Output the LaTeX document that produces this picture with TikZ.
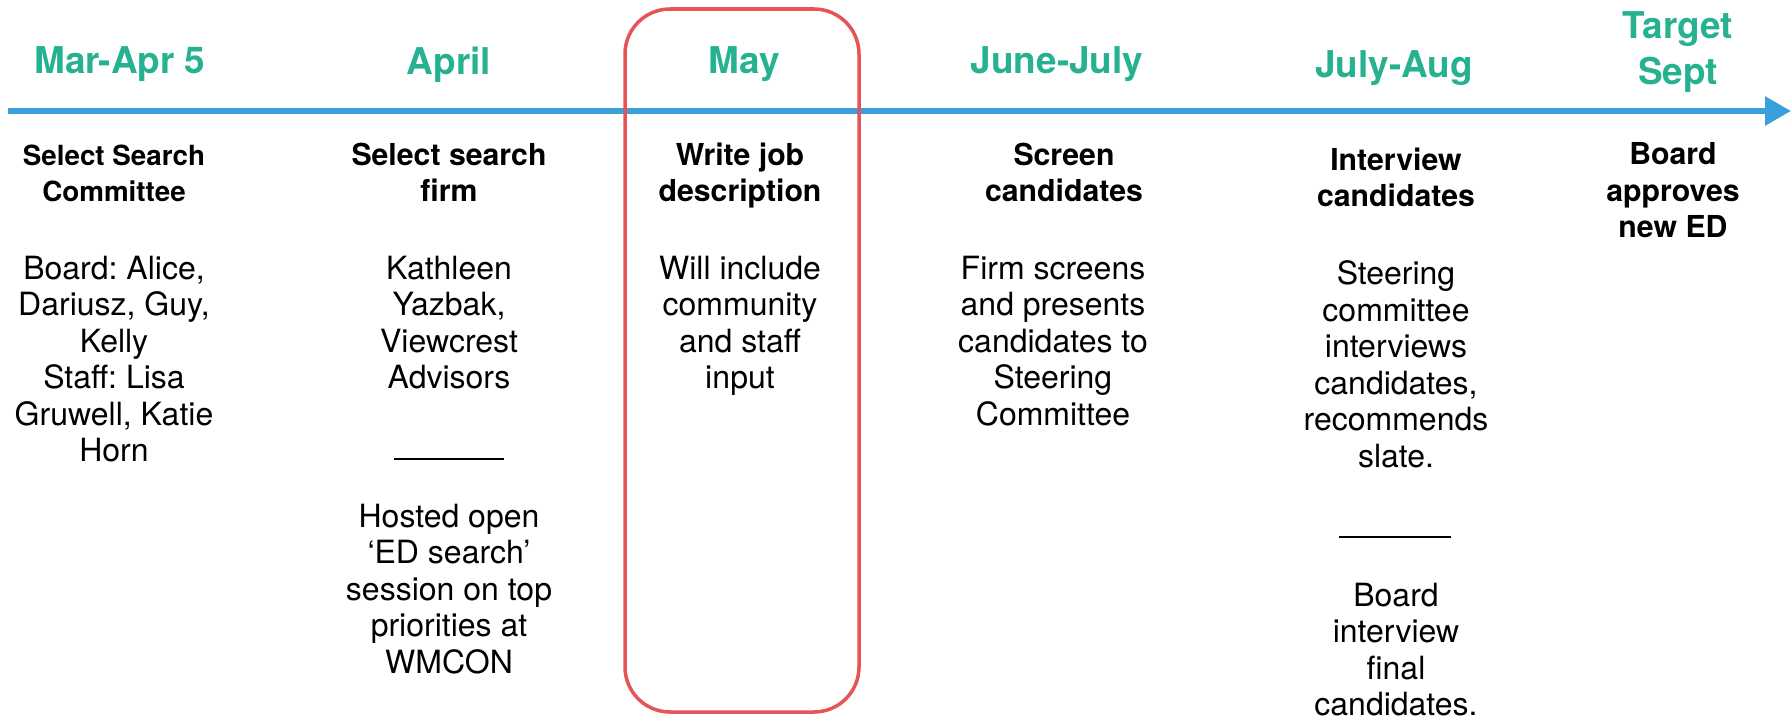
\documentclass[tikz,border=0pt]{standalone}
\usepackage{fontspec}
\setmainfont{TeX Gyre Heros}
\usetikzlibrary{positioning,arrows.meta}
\definecolor{monthteal}{RGB}{38,178,145}
\definecolor{lineblue}{RGB}{57,160,220}
\definecolor{markred}{RGB}{230,84,88}
\frenchspacing

\begin{document}
\begin{tikzpicture}[x=0.01cm,y=-0.01cm,
  hd/.style={font=\fontsize{10.5}{13}\selectfont\bfseries,color=monthteal,align=center,
             anchor=north,inner sep=0pt},
  ttl/.style={font=\fontsize{8.6}{10.4}\selectfont\bfseries,align=center,anchor=north,inner sep=0pt},
  txt/.style={font=\fontsize{9.1}{10.4}\selectfont,align=center,anchor=north,inner sep=0pt},
  arr/.style={-{Triangle[length=0.26cm,width=0.28cm]},line width=1.7pt,color=lineblue},
  rule/.style={line width=0.4pt,color=black}]
  \useasboundingbox (0,0) rectangle (1791,721);
  % month headings
  \node[hd] (mar)  at (120,46)  {Mar-Apr 5};
  \node[hd] (apr)  at (449,46)  {April};
  \node[hd] (may)  at (744,46)  {May};
  \node[hd] (jun)  at (1057,46) {June-July};
  \node[hd] (jul)  at (1394,50) {July-Aug};
  \node[hd] (sep)  at (1678,11) {Target\\Sept};
  % the timeline
  \coordinate (tstart) at (8,111);
  \coordinate (tend)   at (1791,111);
  \draw[arr] (tstart) -- (tend);
  % steps
  \node[ttl,font=\fontsize{7.9}{10.4}\selectfont\bfseries] (comm) at (114,144) {Select Search\\Committee};
  \node[txt] (commt) at (114,255)  {Board: Alice,\\Dariusz, Guy,\\Kelly\\Staff: Lisa\\Gruwell, Katie\\Horn};
  \node[ttl] (firm)  at (449,142)  {Select search\\firm};
  \node[txt] (firmt) at (449,255)  {Kathleen\\Yazbak,\\Viewcrest\\Advisors};
  \node[txt] (firmh) at (449,503)  {Hosted open\\‘ED search’\\session on top\\priorities at\\WMCON};
  \node[ttl] (desc)  at (740,142)  {Write job\\description};
  \node[txt] (desct) at (740,255)  {Will include\\community\\and staff\\input};
  \node[ttl] (scr)   at (1064,142) {Screen\\candidates};
  \node[txt] (scrt)  at (1053,255) {Firm screens\\and presents\\candidates to\\Steering\\Committee};
  \node[ttl] (intv)  at (1396,147) {Interview\\candidates};
  \node[txt] (intvt) at (1396,260) {Steering\\committee\\interviews\\candidates,\\recommends\\slate.};
  \node[txt] (intvb) at (1396,582) {Board\\interview\\final\\candidates.};
  \node[ttl] (appr)  at (1673,142) {Board\\approves\\new ED};
  % short rules between notes
  \draw[rule] (394,459) -- (504,459);
  \draw[rule] (1339,537) -- (1451,537);
  % current month
  \draw[markred,line width=1pt,rounded corners=0.45cm] (625,9) rectangle (859,712);
\end{tikzpicture}
\end{document}
